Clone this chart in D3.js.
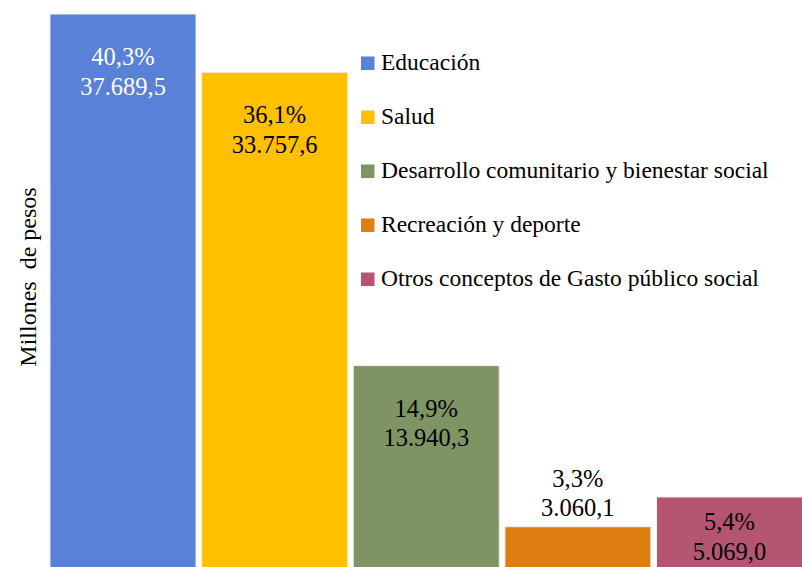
<!DOCTYPE html>
<html><head><meta charset="utf-8">
<script src="https://cdn.jsdelivr.net/npm/d3@7"></script>
</head><body style="margin:0;background:#fff;overflow:hidden">
<svg id="c" width="802" height="567" font-family="Liberation Serif"></svg>
<script>
const categories = ["Educación","Salud","Desarrollo comunitario y bienestar social","Recreación y deporte","Otros conceptos de Gasto público social"];
const values = [37689.5, 33757.6, 13940.3, 3060.1, 5069.0];
const percents = ["40,3%","36,1%","14,9%","3,3%","5,4%"];
const valueLabels = ["37.689,5","33.757,6","13.940,3","3.060,1","5.069,0"];
const colors = ["#5981d7","#ffc000","#7e9462","#df7e11","#b55571"];
const labelColors = ["#ffffff","#000000","#000000","#000000","#000000"];
const yTitle = "Millones  de pesos";

const FONT = "Liberation Serif";
const svg = d3.select("#c");
const W = 802, H = 567;

const x = d3.scaleBand().domain(categories).range([50, 802.5]).paddingInner(0.037).paddingOuter(0);
const y = d3.scaleLinear().domain([0, 37689.5]).range([572, 14]);

const data = categories.map((c,i)=>({c, v:values[i], p:percents[i], l:valueLabels[i], col:colors[i], lc:labelColors[i]}));

svg.append("g").selectAll("rect").data(data).join("rect")
  .attr("x", d=>x(d.c)).attr("width", x.bandwidth())
  .attr("y", d=>y(d.v)).attr("height", d=>y(0)-y(d.v))
  .attr("fill", d=>d.col).attr("stroke","#f2f2f2").attr("stroke-width",1);

data.forEach(d=>{
  const top = y(d.v);
  const h = H - top;
  let b1;
  if (h < 60) { b1 = top - 40; }
  else { b1 = Math.min(top + 51, H - 37); }
  const cx = x(d.c) + x.bandwidth()/2;
  const t = svg.append("text").attr("x", cx).attr("y", b1)
    .attr("text-anchor","middle").attr("font-family", FONT).attr("font-size", 24.5)
    .style("fill", d.lc);
  t.append("tspan").attr("x", cx).text(d.p);
  t.append("tspan").attr("x", cx).attr("dy", 29.5).text(d.l);
});

categories.forEach((c,i)=>{
  const g = svg.append("g").attr("transform", `translate(361,${70 + i*54})`);
  g.append("rect").attr("x",0).attr("y",-13.5).attr("width",13.5).attr("height",13.5).attr("fill",colors[i]);
  g.append("text").attr("x",20).attr("y",0)
    .attr("font-family", FONT).attr("font-size", 23.5).text(c);
});

svg.append("text").attr("transform","translate(36,277) rotate(-90)")
  .attr("text-anchor","middle").attr("font-family", FONT).attr("font-size", 24)
  .text(yTitle.replace("  ", "\u00a0 "));
</script>
</body></html>
